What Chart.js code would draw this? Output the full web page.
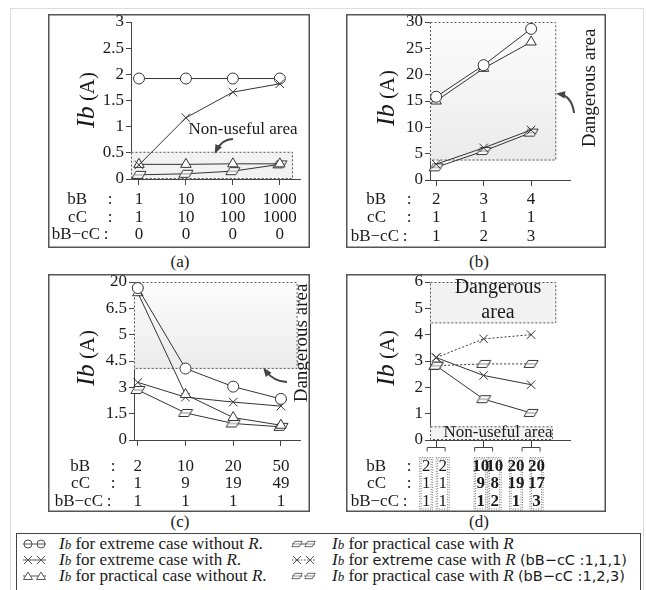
<!DOCTYPE html>
<html>
<head>
<meta charset="utf-8">
<script src="https://cdn.jsdelivr.net/npm/chart.js@4.4.1/dist/chart.umd.min.js"></script>
<style>
  body { margin: 0; background: #fff; font-family: "Liberation Serif", "Times New Roman", Tinos, "DejaVu Serif", serif; color: #1a1a1a; }
  #frame { position: absolute; left: 10px; top: 8px; width: 632px; height: 600px; border: 1px solid #dcdcdc; }
  canvas.panel { position: absolute; }
  .cap { position: absolute; width: 40px; text-align: center; font-size: 17px; line-height: 18px; }
  #legend { position: absolute; left: 16px; top: 533px; width: 623px; height: 70px; border: 1px solid #444; background: #fff; }
  #legend .row { position: absolute; height: 18px; line-height: 18px; font-size: 17px; white-space: nowrap; }
  #legend canvas { position: absolute; }
  .sans { font-family: "DejaVu Sans", sans-serif; font-size: 14.5px; }
  .ib { font-style: italic; }
  .ib small { font-size: 13px; }
</style>
</head>
<body>
<div id="frame"></div>

<canvas id="chartA" class="panel" width="262" height="234" style="left:48px;top:14px"></canvas>
<canvas id="chartB" class="panel" width="260" height="234" style="left:346px;top:14px"></canvas>
<canvas id="chartC" class="panel" width="262" height="238" style="left:48px;top:274px"></canvas>
<canvas id="chartD" class="panel" width="260" height="238" style="left:346px;top:274px"></canvas>

<div class="cap" style="left:160px;top:253px">(a)</div>
<div class="cap" style="left:459px;top:253px">(b)</div>
<div class="cap" style="left:160px;top:513px">(c)</div>
<div class="cap" style="left:459px;top:513px">(d)</div>

<div id="legend"></div>

<script>
// ---- (a) bB = cC ----
const bbA = [1, 10, 100, 1000];
const ccA = [1, 10, 100, 1000];
const diffA = [0, 0, 0, 0];
const extremeNoRA = [1.92, 1.92, 1.92, 1.92];
const extremeRA = [0.27, 1.17, 1.66, 1.82];
const practicalNoRA = [0.28, 0.28, 0.29, 0.29];
const practicalRA = [0.08, 0.1, 0.15, 0.28];

// ---- (b) cC = 1 ----
const bbB = [2, 3, 4];
const ccB = [1, 1, 1];
const diffB = [1, 2, 3];
const extremeNoRB = [15.8, 21.8, 28.7];
const practicalNoRB = [15.0, 21.2, 26.2];
const extremeRB = [3.0, 6.1, 9.5];
const practicalRB = [2.4, 5.5, 9.0];

// ---- (c) bB - cC = 1 (broken y axis) ----
const bbC = [2, 10, 20, 50];
const ccC = [1, 9, 19, 49];
const diffC = [1, 1, 1, 1];
const yTicksC = [0, 1.5, 3, 4.5, 5, 6.5, 20];
const extremeNoRC = [16.9, 4.07, 3.04, 2.34];
const practicalNoRC = [14.5, 2.59, 1.28, 0.84];
const extremeRC = [3.28, 2.44, 2.16, 1.93];
const practicalRC = [2.85, 1.54, 0.94, 0.75];

// ---- (d) two cases per column ----
const bbD = [[2, 2], [10, 10], [20, 20]];
const ccD = [[1, 1], [9, 8], [19, 17]];
const diffD = [[1, 1], [1, 2], [1, 3]];
const extremeRD = [3.13, 2.45, 2.1];
const practicalRD = [2.82, 1.55, 1.03];
const extremeRD111 = [3.13, 3.84, 4.0];
const practicalRD123 = [2.82, 2.89, 2.89];

const INK = "#333";
const SERIF = '"Liberation Serif", "Times New Roman", Tinos, "DejaVu Serif", serif';

// parallelogram marker
const paraImg = document.createElement("canvas");
paraImg.width = 16;
paraImg.height = 10;
(function () {
  const c = paraImg.getContext("2d");
  c.beginPath();
  c.moveTo(5, 1.5); c.lineTo(15, 1.5); c.lineTo(11, 8.5); c.lineTo(1, 8.5); c.closePath();
  c.fillStyle = "#fff"; c.fill();
  c.strokeStyle = INK; c.lineWidth = 1; c.stroke();
  c.beginPath(); c.moveTo(4, 5); c.lineTo(13, 5); c.strokeStyle = "#888"; c.stroke();
})();

// piecewise position on the broken axis of (c)
function toBroken(v) {
  for (let i = 1; i < yTicksC.length; i++) {
    if (v <= yTicksC[i]) return i - 1 + (v - yTicksC[i - 1]) / (yTicksC[i] - yTicksC[i - 1]);
  }
  return yTicksC.length - 1;
}

function series(values, kind, dotted) {
  const marks = {
    circle: ["circle", 5.5],
    cross: ["crossRot", 6],
    triangle: ["triangle", 6],
    para: [paraImg, 7],
  };
  return {
    data: values.map((v, i) => ({ x: i, y: v })),
    pointStyle: marks[kind][0],
    pointRadius: marks[kind][1],
    borderColor: INK,
    backgroundColor: "#fff",
    pointBorderColor: INK,
    pointBackgroundColor: "#fff",
    borderWidth: 1,
    pointBorderWidth: 1,
    borderDash: dotted ? [2, 2] : [],
    tension: 0,
    clip: false,
  };
}

const panelPlugin = {
  id: "panel",
  beforeDatasetsDraw(chart, args, o) {
    const { ctx, scales: { x, y } } = chart;
    (o.areas || []).forEach((a) => {
      const l = x.getPixelForValue(a.x0), r = x.getPixelForValue(a.x1);
      const t = y.getPixelForValue(a.y1), b = y.getPixelForValue(a.y0);
      ctx.save();
      if (a.fade) {
        const g = ctx.createLinearGradient(0, t, 0, b);
        g.addColorStop(0, "#fcfcfc");
        g.addColorStop(1, "#ebebeb");
        ctx.fillStyle = g;
      } else {
        ctx.fillStyle = "#f2f2f2";
      }
      ctx.fillRect(l, t, r - l, b - t);
      ctx.setLineDash([2, 2]);
      ctx.strokeStyle = "#555";
      ctx.lineWidth = 1;
      ctx.strokeRect(l + 0.5, t + 0.5, r - l - 1, b - t - 1);
      ctx.restore();
    });
    (o.notes || []).forEach((n) => {
      ctx.save();
      ctx.translate(n.x, n.y);
      if (n.rotate) ctx.rotate(-Math.PI / 2);
      ctx.font = n.size + "px " + SERIF;
      ctx.fillStyle = "#1a1a1a";
      ctx.textAlign = "center";
      ctx.textBaseline = "middle";
      ctx.fillText(n.text, 0, 0);
      ctx.restore();
    });
  },
  afterDraw(chart, args, o) {
    const { ctx, width, height, chartArea, scales: { x } } = chart;
    const { left, bottom } = chartArea;
    ctx.save();

    // panel frame
    ctx.strokeStyle = "#555";
    ctx.lineWidth = 1.5;
    ctx.strokeRect(0.75, 0.75, width - 1.5, height - 1.5);

    // y title: Ib (A)
    ctx.save();
    ctx.translate(o.title[0], o.title[1]);
    ctx.rotate(-Math.PI / 2);
    ctx.fillStyle = "#1a1a1a";
    ctx.textBaseline = "alphabetic";
    ctx.font = "italic 26px " + SERIF;
    const w1 = ctx.measureText("Ib").width;
    ctx.font = "21px " + SERIF;
    const w2 = ctx.measureText(" (A)").width;
    const tx = -(w1 + w2) / 2;
    ctx.font = "italic 26px " + SERIF;
    ctx.fillText("Ib", tx, 9);
    ctx.font = "21px " + SERIF;
    ctx.fillText(" (A)", tx + w1, 9);
    ctx.restore();

    // arrows
    (o.arrows || []).forEach((a) => {
      ctx.strokeStyle = "#444";
      ctx.fillStyle = "#444";
      ctx.lineWidth = 2;
      ctx.beginPath();
      ctx.moveTo(a.from[0], a.from[1]);
      ctx.quadraticCurveTo(a.ctrl[0], a.ctrl[1], a.to[0], a.to[1]);
      ctx.stroke();
      const ang = Math.atan2(a.to[1] - a.ctrl[1], a.to[0] - a.ctrl[0]);
      ctx.beginPath();
      ctx.moveTo(a.to[0] + Math.cos(ang) * 3, a.to[1] + Math.sin(ang) * 3);
      ctx.lineTo(a.to[0] + Math.cos(ang + 2.6) * 7, a.to[1] + Math.sin(ang + 2.6) * 7);
      ctx.lineTo(a.to[0] + Math.cos(ang - 2.6) * 7, a.to[1] + Math.sin(ang - 2.6) * 7);
      ctx.closePath();
      ctx.fill();
    });

    // table under the x axis
    const t = o.table;
    const names = ["bB", "cC", "bB\u2212cC"];
    ctx.lineWidth = 1;
    if (t.pairs) {
      // brackets and dotted column boxes
      ctx.strokeStyle = "#444";
      x.ticks.forEach((tk, i) => {
        const cx = x.getPixelForValue(tk.value);
        ctx.beginPath();
        ctx.moveTo(cx - 9, bottom + 11.5); ctx.lineTo(cx - 9, bottom + 7.5);
        ctx.lineTo(cx + 9, bottom + 7.5); ctx.lineTo(cx + 9, bottom + 11.5);
        ctx.stroke();
        t.offsets[i].forEach((off) => {
          ctx.save();
          ctx.setLineDash([1, 1.5]);
          ctx.strokeStyle = "#777";
          ctx.strokeRect(cx + off - 6.5, bottom + 17.5, 13, height - bottom - 19);
          ctx.strokeRect(cx + off - 5, bottom + 19, 10, height - bottom - 22);
          ctx.restore();
        });
      });
    }
    ctx.fillStyle = "#1a1a1a";
    ctx.textBaseline = "middle";
    t.rows.forEach((row, r) => {
      const ty = bottom + t.dy[r];
      ctx.font = "17px " + SERIF;
      ctx.textAlign = "right";
      ctx.fillText(names[r], left - (r === 2 ? 31 : 44), ty);
      ctx.textAlign = "center";
      ctx.fillText(":", left - (r === 2 ? 25 : 21), ty);
      row.forEach((v, i) => {
        const cx = x.getPixelForValue(i);
        if (t.pairs) {
          ctx.font = (i > 0 ? "bold " : "") + "17px " + SERIF;
          v.forEach((vv, k) => ctx.fillText(String(vv), cx + t.offsets[i][k], ty));
        } else {
          ctx.fillText(String(v), cx, ty);
        }
      });
    });
    ctx.restore();
  },
};

function makeChart(id, datasets, cfg) {
  return new Chart(document.getElementById(id), {
    type: "line",
    data: { datasets },
    plugins: [panelPlugin],
    options: {
      responsive: false,
      animation: false,
      events: [],
      layout: { padding: { top: 6, right: cfg.padRight, left: 0, bottom: 0 } },
      plugins: { legend: { display: false }, tooltip: { enabled: false }, panel: cfg.panel },
      scales: {
        x: {
          type: "linear",
          min: cfg.xMin,
          max: cfg.xMax,
          afterBuildTicks: (s) => { s.ticks = cfg.cats.map((_, i) => ({ value: i })); },
          afterFit: (s) => { s.height = cfg.xHeight; s.paddingLeft = 0; s.paddingRight = 0; },
          ticks: { display: false },
          grid: { drawOnChartArea: false, tickLength: cfg.xTick || 6, color: "#444" },
          border: { color: "#444", width: 1 },
        },
        y: {
          min: 0,
          max: cfg.yMax,
          ticks: {
            stepSize: cfg.yStep,
            padding: 2,
            color: "#1a1a1a",
            font: { family: SERIF, size: 17 },
            callback: cfg.yLabel || ((v) => v),
          },
          afterFit: (s) => { s.width = cfg.yWidth; s.paddingTop = 0; s.paddingBottom = 0; },
          grid: { drawOnChartArea: false, tickLength: 5, color: "#444" },
          border: { color: "#444", width: 1 },
        },
      },
    },
  });
}

makeChart("chartA", [
  series(extremeRA, "cross"),
  series(extremeNoRA, "circle"),
  series(practicalNoRA, "triangle"),
  series(practicalRA, "para"),
], {
  cats: bbA, xMin: -0.17, xMax: 3.43, yMax: 3, yStep: 0.5,
  yWidth: 83, xHeight: 69, padRight: 10,
  panel: {
    title: [37, 86],
    areas: [{ x0: -0.17, x1: 3.28, y0: 0, y1: 0.52 }],
    notes: [{ text: "Non-useful area", x: 195, y: 116, size: 17 }],
    arrows: [{ from: [185, 125], ctrl: [174, 125], to: [168, 137] }],
    table: { rows: [bbA, ccA, diffA], dy: [21, 39, 56] },
  },
});

makeChart("chartB", [
  series(extremeNoRB, "circle"),
  series(practicalNoRB, "triangle"),
  series(extremeRB, "cross"),
  series(practicalRB, "para"),
], {
  cats: bbB, xMin: -0.13, xMax: 2.82, yMax: 30, yStep: 5,
  yWidth: 84, xHeight: 68, padRight: 36,
  panel: {
    title: [39, 84],
    areas: [{ x0: -0.13, x1: 2.53, y0: 3.7, y1: 30, fade: true }],
    notes: [{ text: "Dangerous area", x: 244, y: 74, size: 19, rotate: true }],
    arrows: [{ from: [228, 99], ctrl: [226, 82], to: [213, 80] }],
    table: { rows: [bbB, ccB, diffB], dy: [20, 38, 57] },
  },
});

makeChart("chartC", [
  series(extremeNoRC.map(toBroken), "circle"),
  series(practicalNoRC.map(toBroken), "triangle"),
  series(extremeRC.map(toBroken), "cross"),
  series(practicalRC.map(toBroken), "para"),
], {
  cats: bbC, xMin: -0.08, xMax: 3.4, yMax: yTicksC.length - 1, yStep: 1,
  yLabel: (v) => yTicksC[v],
  yWidth: 86, xHeight: 72, padRight: 10,
  panel: {
    title: [37, 84],
    areas: [{ x0: -0.08, x1: 3.35, y0: toBroken(4.05), y1: yTicksC.length - 1, fade: true }],
    notes: [{ text: "Dangerous area", x: 254, y: 69, size: 19, rotate: true }],
    arrows: [{ from: [239, 108], ctrl: [226, 108], to: [217, 96] }],
    table: { rows: [bbC, ccC, diffC], dy: [27, 44, 62] },
  },
});

makeChart("chartD", [
  series(extremeRD, "cross"),
  series(practicalRD, "para"),
  series(extremeRD111, "cross", true),
  series(practicalRD123, "para", true),
], {
  cats: bbD, xMin: -0.13, xMax: 2.82, yMax: 6, yStep: 1, xTick: 7,
  yWidth: 84, xHeight: 72, padRight: 36,
  panel: {
    title: [39, 84],
    areas: [
      { x0: -0.13, x1: 2.53, y0: 4.43, y1: 6 },
      { x0: -0.13, x1: 2.46, y0: 0, y1: 0.52 },
    ],
    notes: [
      { text: "Dangerous", x: 152, y: 14, size: 20 },
      { text: "area", x: 152, y: 39, size: 20 },
      { text: "Non-useful area", x: 152, y: 159, size: 17 },
    ],
    table: {
      rows: [bbD, ccD, diffD], dy: [27, 44, 62], pairs: true,
      offsets: [[-10, 6.5], [-3, 11], [-15, 5.5]],
    },
  },
});

// ---- shared legend ----
const legendRows = [
  { kind: "circle", col: 0, row: 0, html: 'for extreme case without <i>R</i>.' },
  { kind: "cross", col: 0, row: 1, html: 'for extreme case with <i>R</i>.' },
  { kind: "triangle", col: 0, row: 2, html: 'for practical case without <i>R</i>.' },
  { kind: "para", col: 1, row: 0, html: 'for practical case with <i>R</i>' },
  { kind: "cross", col: 1, row: 1, dotted: true, html: 'for <span class="sans">extreme</span> case with <i>R</i> <span class="sans">(bB\u2212cC :1,1,1)</span>' },
  { kind: "para", col: 1, row: 2, dotted: true, html: 'for practical case with <i>R</i> <span class="sans">(bB\u2212cC :1,2,3)</span>' },
];

function legendMark(c, kind, px, py) {
  c.strokeStyle = "#555";
  c.fillStyle = "#fff";
  c.lineWidth = 1;
  c.beginPath();
  if (kind === "circle") {
    c.arc(px, py, 4, 0, Math.PI * 2);
    c.stroke();
  } else if (kind === "cross") {
    c.moveTo(px - 4, py - 4); c.lineTo(px + 4, py + 4);
    c.moveTo(px + 4, py - 4); c.lineTo(px - 4, py + 4);
    c.stroke();
  } else if (kind === "triangle") {
    c.moveTo(px, py - 4); c.lineTo(px + 4.5, py + 3.5); c.lineTo(px - 4.5, py + 3.5); c.closePath();
    c.fill(); c.stroke();
  } else {
    c.drawImage(paraImg, px - 6, py - 4, 12, 8);
  }
}

const legend = document.getElementById("legend");
legendRows.forEach((r) => {
  const top = 1 + r.row * 16;
  const sym = document.createElement("canvas");
  sym.width = 28;
  sym.height = 14;
  sym.style.left = (r.col ? 272 : 3) + "px";
  sym.style.top = (top + 2) + "px";
  const c = sym.getContext("2d");
  c.strokeStyle = "#555";
  c.setLineDash(r.dotted ? [1.5, 1.5] : []);
  c.beginPath(); c.moveTo(3, 7); c.lineTo(26, 7); c.stroke();
  c.setLineDash([]);
  legendMark(c, r.kind, 8, 7);
  legendMark(c, r.kind, 21, 7);
  legend.appendChild(sym);

  const row = document.createElement("div");
  row.className = "row";
  row.style.left = (r.col ? 315 : 42) + "px";
  row.style.top = top + "px";
  row.innerHTML = '<span class="ib">I<small>b</small></span> ' + r.html;
  legend.appendChild(row);
});
</script>
</body>
</html>
